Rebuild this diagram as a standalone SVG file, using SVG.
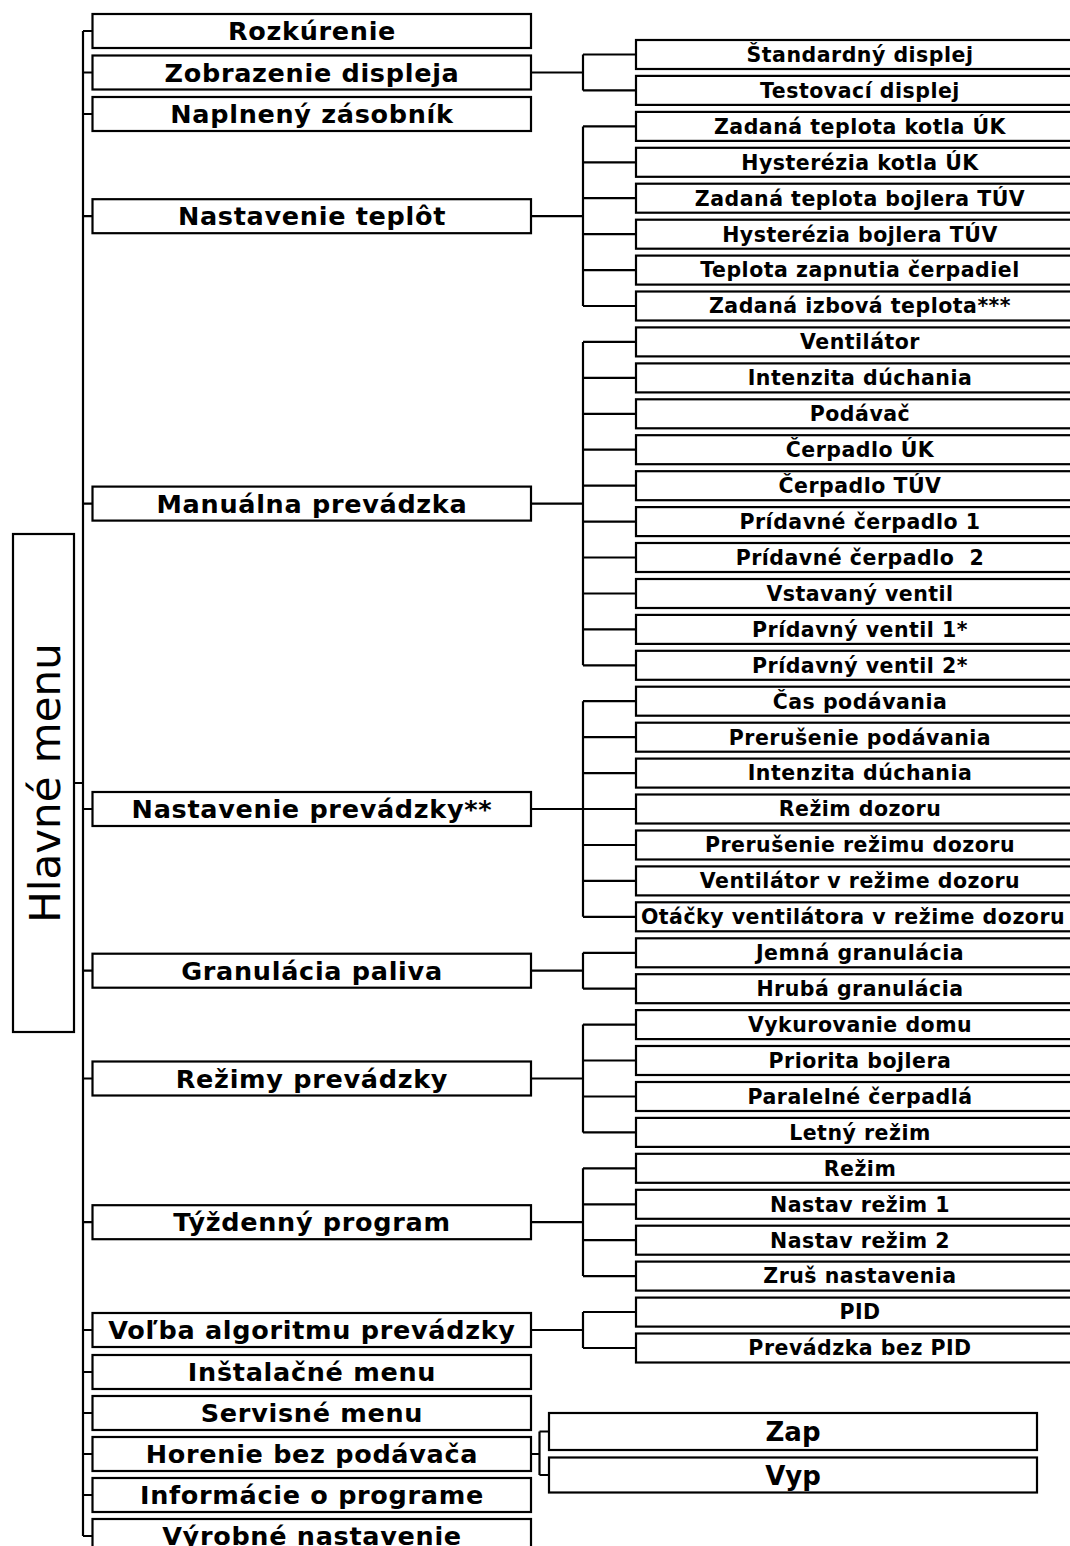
<svg xmlns="http://www.w3.org/2000/svg" width="1070" height="1546" viewBox="0 0 1070 1546">
<style>
  .box { fill: #ffffff; stroke: #000000; stroke-width: 2.2; }
  .conn { fill: none; stroke: #000000; stroke-width: 2.2; }
  .main { font-family: "DejaVu Sans", Verdana, sans-serif; font-weight: bold; font-size: 25.5px; letter-spacing: 0.7px; text-anchor: middle; fill: #000; }
  .sub { font-family: "DejaVu Sans", Verdana, sans-serif; font-weight: bold; font-size: 20.5px; letter-spacing: 0.5px; text-anchor: middle; fill: #000; }
  .big { font-family: "DejaVu Sans", Verdana, sans-serif; font-weight: bold; font-size: 26px; text-anchor: middle; fill: #000; }
  .root { font-family: "DejaVu Sans", Verdana, sans-serif; font-size: 42px; text-anchor: middle; fill: #000; }
</style>
<rect width="1070" height="1546" fill="#ffffff"/>
<g id="connectors">
  <path class="conn" d="M74,783 H83 M83,31 V1536 M83,31 H92.5 M83,72.5 H92.5 M83,114 H92.5 M83,216.2 H92.5 M83,503.6 H92.5 M83,809 H92.5 M83,970.7 H92.5 M83,1078.5 H92.5 M83,1222.2 H92.5 M83,1330 H92.5 M83,1372 H92.5 M83,1413 H92.5 M83,1454 H92.5 M83,1495 H92.5 M83,1536 H92.5"/>
  <path class="conn" d="M531,72.5 H583 M583,54.5 V90.4 M583,54.5 H636 M583,90.4 H636"/>
  <path class="conn" d="M531,216.2 H583 M583,126.4 V306 M583,126.4 H636 M583,162.3 H636 M583,198.2 H636 M583,234.2 H636 M583,270.1 H636 M583,306 H636"/>
  <path class="conn" d="M531,503.6 H583 M583,341.9 V665.3 M583,341.9 H636 M583,377.9 H636 M583,413.8 H636 M583,449.7 H636 M583,485.7 H636 M583,521.6 H636 M583,557.5 H636 M583,593.5 H636 M583,629.4 H636 M583,665.3 H636"/>
  <path class="conn" d="M531,809 H583 M583,701.2 V916.8 M583,701.2 H636 M583,737.2 H636 M583,773.1 H636 M583,809 H636 M583,845 H636 M583,880.9 H636 M583,916.8 H636"/>
  <path class="conn" d="M531,970.7 H583 M583,952.8 V988.7 M583,952.8 H636 M583,988.7 H636"/>
  <path class="conn" d="M531,1078.5 H583 M583,1024.6 V1132.4 M583,1024.6 H636 M583,1060.5 H636 M583,1096.5 H636 M583,1132.4 H636"/>
  <path class="conn" d="M531,1222.2 H583 M583,1168.3 V1276.1 M583,1168.3 H636 M583,1204.3 H636 M583,1240.2 H636 M583,1276.1 H636"/>
  <path class="conn" d="M531,1330 H583 M583,1312 V1348 M583,1312 H636 M583,1348 H636"/>
  <path class="conn" d="M531,1454 H539.5 M539.5,1431.5 V1475 M539.5,1431.5 H549 M539.5,1475 H549"/>
</g>
<g id="hlavne-menu">
  <rect class="box" x="13" y="534" width="61" height="498"/>
  <text class="root" transform="translate(59.5,783) rotate(-90)" x="0" y="0">Hlavné menu</text>
</g>
<g id="m-rozkurenie"><rect class="box" x="92.5" y="14" width="438.5" height="34"/><text class="main" x="312" y="40">Rozkúrenie</text></g>
<g id="m-zobrazenie"><rect class="box" x="92.5" y="55.5" width="438.5" height="34"/><text class="main" x="312" y="81.5">Zobrazenie displeja</text></g>
<g id="m-naplneny"><rect class="box" x="92.5" y="97" width="438.5" height="34"/><text class="main" x="312" y="123">Naplnený zásobník</text></g>
<g id="m-teplot"><rect class="box" x="92.5" y="199.2" width="438.5" height="34"/><text class="main" x="312" y="225.2">Nastavenie teplôt</text></g>
<g id="m-manualna"><rect class="box" x="92.5" y="486.6" width="438.5" height="34"/><text class="main" x="312" y="512.6">Manuálna prevádzka</text></g>
<g id="m-prevadzky"><rect class="box" x="92.5" y="792" width="438.5" height="34"/><text class="main" x="312" y="818">Nastavenie prevádzky**</text></g>
<g id="m-granulacia"><rect class="box" x="92.5" y="953.7" width="438.5" height="34"/><text class="main" x="312" y="979.7">Granulácia paliva</text></g>
<g id="m-rezimy"><rect class="box" x="92.5" y="1061.5" width="438.5" height="34"/><text class="main" x="312" y="1087.5">Režimy prevádzky</text></g>
<g id="m-tyzdenny"><rect class="box" x="92.5" y="1205.2" width="438.5" height="34"/><text class="main" x="312" y="1231.2">Týždenný program</text></g>
<g id="m-volba"><rect class="box" x="92.5" y="1313" width="438.5" height="34"/><text class="main" x="312" y="1339">Voľba algoritmu prevádzky</text></g>
<g id="m-instalacne"><rect class="box" x="92.5" y="1355" width="438.5" height="34"/><text class="main" x="312" y="1381">Inštalačné menu</text></g>
<g id="m-servisne"><rect class="box" x="92.5" y="1396" width="438.5" height="34"/><text class="main" x="312" y="1422">Servisné menu</text></g>
<g id="m-horenie"><rect class="box" x="92.5" y="1437" width="438.5" height="34"/><text class="main" x="312" y="1463">Horenie bez podávača</text></g>
<g id="m-informacie"><rect class="box" x="92.5" y="1478" width="438.5" height="34"/><text class="main" x="312" y="1504">Informácie o programe</text></g>
<g id="m-vyrobne"><rect class="box" x="92.5" y="1519" width="438.5" height="34"/><text class="main" x="312" y="1545">Výrobné nastavenie</text></g>

<g id="s00"><rect class="box" x="636" y="40" width="450" height="29"/><text class="sub" x="860" y="61.8">Štandardný displej</text></g>
<g id="s01"><rect class="box" x="636" y="75.9" width="450" height="29"/><text class="sub" x="860" y="97.7">Testovací displej</text></g>
<g id="s02"><rect class="box" x="636" y="111.9" width="450" height="29"/><text class="sub" x="860" y="133.7">Zadaná teplota kotla ÚK</text></g>
<g id="s03"><rect class="box" x="636" y="147.8" width="450" height="29"/><text class="sub" x="860" y="169.6">Hysterézia kotla ÚK</text></g>
<g id="s04"><rect class="box" x="636" y="183.7" width="450" height="29"/><text class="sub" x="860" y="205.5">Zadaná teplota bojlera TÚV</text></g>
<g id="s05"><rect class="box" x="636" y="219.7" width="450" height="29"/><text class="sub" x="860" y="241.5">Hysterézia bojlera TÚV</text></g>
<g id="s06"><rect class="box" x="636" y="255.6" width="450" height="29"/><text class="sub" x="860" y="277.4">Teplota zapnutia čerpadiel</text></g>
<g id="s07"><rect class="box" x="636" y="291.5" width="450" height="29"/><text class="sub" x="860" y="313.3">Zadaná izbová teplota***</text></g>
<g id="s08"><rect class="box" x="636" y="327.4" width="450" height="29"/><text class="sub" x="860" y="349.2">Ventilátor</text></g>
<g id="s09"><rect class="box" x="636" y="363.4" width="450" height="29"/><text class="sub" x="860" y="385.2">Intenzita dúchania</text></g>
<g id="s10"><rect class="box" x="636" y="399.3" width="450" height="29"/><text class="sub" x="860" y="421.1">Podávač</text></g>
<g id="s11"><rect class="box" x="636" y="435.2" width="450" height="29"/><text class="sub" x="860" y="457">Čerpadlo ÚK</text></g>
<g id="s12"><rect class="box" x="636" y="471.2" width="450" height="29"/><text class="sub" x="860" y="493">Čerpadlo TÚV</text></g>
<g id="s13"><rect class="box" x="636" y="507.1" width="450" height="29"/><text class="sub" x="860" y="528.9">Prídavné čerpadlo 1</text></g>
<g id="s14"><rect class="box" x="636" y="543" width="450" height="29"/><text class="sub" x="860" y="564.8" xml:space="preserve">Prídavné čerpadlo  2</text></g>
<g id="s15"><rect class="box" x="636" y="579" width="450" height="29"/><text class="sub" x="860" y="600.8">Vstavaný ventil</text></g>
<g id="s16"><rect class="box" x="636" y="614.9" width="450" height="29"/><text class="sub" x="860" y="636.7">Prídavný ventil 1*</text></g>
<g id="s17"><rect class="box" x="636" y="650.8" width="450" height="29"/><text class="sub" x="860" y="672.6">Prídavný ventil 2*</text></g>
<g id="s18"><rect class="box" x="636" y="686.7" width="450" height="29"/><text class="sub" x="860" y="708.5">Čas podávania</text></g>
<g id="s19"><rect class="box" x="636" y="722.7" width="450" height="29"/><text class="sub" x="860" y="744.5">Prerušenie podávania</text></g>
<g id="s20"><rect class="box" x="636" y="758.6" width="450" height="29"/><text class="sub" x="860" y="780.4">Intenzita dúchania</text></g>
<g id="s21"><rect class="box" x="636" y="794.5" width="450" height="29"/><text class="sub" x="860" y="816.3">Režim dozoru</text></g>
<g id="s22"><rect class="box" x="636" y="830.5" width="450" height="29"/><text class="sub" x="860" y="852.3">Prerušenie režimu dozoru</text></g>
<g id="s23"><rect class="box" x="636" y="866.4" width="450" height="29"/><text class="sub" x="860" y="888.2">Ventilátor v režime dozoru</text></g>
<g id="s24"><rect class="box" x="636" y="902.3" width="450" height="29"/><text class="sub" x="853" y="924.1">Otáčky ventilátora v režime dozoru</text></g>
<g id="s25"><rect class="box" x="636" y="938.3" width="450" height="29"/><text class="sub" x="860" y="960.1">Jemná granulácia</text></g>
<g id="s26"><rect class="box" x="636" y="974.2" width="450" height="29"/><text class="sub" x="860" y="996">Hrubá granulácia</text></g>
<g id="s27"><rect class="box" x="636" y="1010.1" width="450" height="29"/><text class="sub" x="860" y="1031.9">Vykurovanie domu</text></g>
<g id="s28"><rect class="box" x="636" y="1046" width="450" height="29"/><text class="sub" x="860" y="1067.8">Priorita bojlera</text></g>
<g id="s29"><rect class="box" x="636" y="1082" width="450" height="29"/><text class="sub" x="860" y="1103.8">Paralelné čerpadlá</text></g>
<g id="s30"><rect class="box" x="636" y="1117.9" width="450" height="29"/><text class="sub" x="860" y="1139.7">Letný režim</text></g>
<g id="s31"><rect class="box" x="636" y="1153.8" width="450" height="29"/><text class="sub" x="860" y="1175.6">Režim</text></g>
<g id="s32"><rect class="box" x="636" y="1189.8" width="450" height="29"/><text class="sub" x="860" y="1211.6">Nastav režim 1</text></g>
<g id="s33"><rect class="box" x="636" y="1225.7" width="450" height="29"/><text class="sub" x="860" y="1247.5">Nastav režim 2</text></g>
<g id="s34"><rect class="box" x="636" y="1261.6" width="450" height="29"/><text class="sub" x="860" y="1283.4">Zruš nastavenia</text></g>
<g id="s35"><rect class="box" x="636" y="1297.6" width="450" height="29"/><text class="sub" x="860" y="1319.4">PID</text></g>
<g id="s36"><rect class="box" x="636" y="1333.5" width="450" height="29"/><text class="sub" x="860" y="1355.3">Prevádzka bez PID</text></g>

<g id="zap"><rect class="box" x="549" y="1413" width="488" height="37"/><text class="big" x="793" y="1441">Zap</text></g>
<g id="vyp"><rect class="box" x="549" y="1457.5" width="488" height="35"/><text class="big" x="793" y="1484.5">Vyp</text></g>
</svg>
